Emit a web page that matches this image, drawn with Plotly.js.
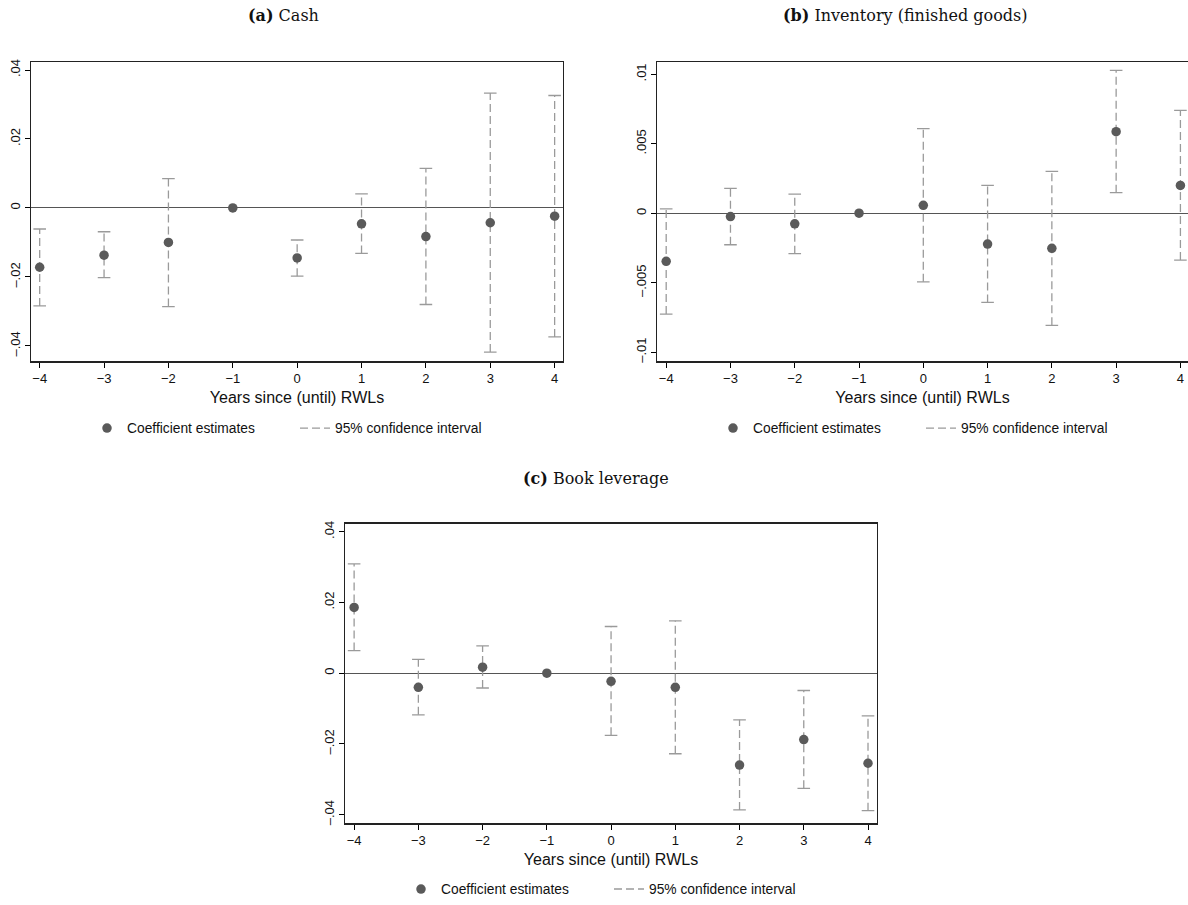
<!DOCTYPE html>
<html>
<head>
<meta charset="utf-8">
<script src="https://cdn.plot.ly/plotly-3.0.1.min.js"></script>
<style>html,body{margin:0;padding:0;background:#fff;}#chart{width:1188px;height:905px;}</style>
</head>
<body>
<div id="chart"></div>
<script>
// ---- Data ----
const years = [-4, -3, -2, -1, 0, 1, 2, 3, 4];
const xTickText = ["\u22124", "\u22123", "\u22122", "\u22121", "0", "1", "2", "3", "4"];

// (a) Cash
const cashCoef = [-0.0172, -0.0137, -0.0100, 0, -0.0145, -0.0046, -0.0083, -0.0043, -0.0024];
const cashLo   = [-0.0284, -0.0202, -0.0286, null, -0.0198, -0.0132, -0.0280, -0.0418, -0.0374];
const cashHi   = [-0.0061, -0.0069, 0.0085, null, -0.0093, 0.0041, 0.0115, 0.0333, 0.0326];
const cashTickVals = [-0.04, -0.02, 0, 0.02, 0.04];
const cashTickText = ["\u2013.04", "\u2013.02", "0", ".02", ".04"];

// (b) Inventory (finished goods)
const invCoef = [-0.00346, -0.00024, -0.00076, 0, 0.00057, -0.00222, -0.00253, 0.00587, 0.00200];
const invLo   = [-0.00726, -0.00227, -0.00291, null, -0.00494, -0.00642, -0.00807, 0.00148, -0.00337];
const invHi   = [0.00031, 0.00179, 0.00138, null, 0.00609, 0.00200, 0.00301, 0.01029, 0.00740];
const invTickVals = [-0.01, -0.005, 0, 0.005, 0.01];
const invTickText = ["\u2013.01", "\u2013.005", "0", ".005", ".01"];

// (c) Book leverage
const levCoef = [0.0186, -0.0040, 0.0017, 0, -0.0023, -0.0040, -0.0260, -0.0188, -0.0255];
const levLo   = [0.0064, -0.0118, -0.0042, null, -0.0176, -0.0228, -0.0387, -0.0326, -0.0389];
const levHi   = [0.0309, 0.0039, 0.0077, null, 0.0132, 0.0148, -0.0132, -0.0049, -0.0121];
const levTickVals = [-0.04, -0.02, 0, 0.02, 0.04];
const levTickText = ["\u2013.04", "\u2013.02", "0", ".02", ".04"];

const titles = ["<b>(a)</b> Cash", "<b>(b)</b> Inventory (finished goods)", "<b>(c)</b> Book leverage"];
const xTitle = "Years since (until) RWLs";
const coefName = "Coefficient estimates";
const ciName = "95% confidence interval";

// ---- Build traces ----
const MARK = "#5a5a5a", CI = "#9a9a9a";
function panelTraces(coef, lo, hi, xa, ya, lg) {
  const lx = [], ly = [], cx = [], cy = [];
  years.forEach((x, i) => {
    if (lo[i] === null) return;
    lx.push(x, x, null); ly.push(lo[i], hi[i], null);
    cx.push(x, x); cy.push(lo[i], hi[i]);
  });
  return [
    {x: lx, y: ly, type: "scatter", mode: "lines", name: ciName, xaxis: xa, yaxis: ya, legend: lg,
     legendrank: 2, line: {color: CI, width: 1.3, dash: "8px,4px"}, hoverinfo: "skip"},
    {x: cx, y: cy, type: "scatter", mode: "markers", showlegend: false, xaxis: xa, yaxis: ya,
     marker: {symbol: "line-ew-open", size: 9, color: CI, line: {color: CI, width: 1.3}}, hoverinfo: "skip"},
    {x: years, y: coef, type: "scatter", mode: "markers", name: coefName, xaxis: xa, yaxis: ya, legend: lg,
     legendrank: 1, marker: {color: MARK, size: 9.5}}
  ];
}
const data = [].concat(
  panelTraces(cashCoef, cashLo, cashHi, "x", "y", "legend"),
  panelTraces(invCoef, invLo, invHi, "x2", "y2", "legend2"),
  panelTraces(levCoef, levLo, levHi, "x3", "y3", "legend3")
);

const FONT = "Liberation Sans, Arial, sans-serif";
const SERIF = "DejaVu Serif, serif";
function xaxis(domain, range, anchor) {
  return {domain: domain, range: range, anchor: anchor, tickvals: years, ticktext: xTickText,
    ticks: "outside", ticklen: 5, tickcolor: "#000", showgrid: false, zeroline: false,
    showline: true, mirror: true, linecolor: "#222", linewidth: 1.2,
    tickfont: {family: FONT, size: 13, color: "#111"},
    title: {text: xTitle, font: {family: FONT, size: 16, color: "#111"}, standoff: 6}};
}
function yaxis(domain, range, anchor, tv, tt, mirror) {
  return {domain: domain, range: range, anchor: anchor, tickvals: tv, ticktext: tt, tickangle: -90,
    ticks: "outside", ticklen: 5, tickcolor: "#000", showgrid: false,
    zeroline: true, zerolinecolor: "#555", zerolinewidth: 1,
    showline: true, mirror: mirror, linecolor: "#222", linewidth: 1.2,
    tickfont: {family: FONT, size: 13, color: "#111"}};
}
function legend(x, y) {
  return {x: x, y: y, xanchor: "left", yanchor: "middle", orientation: "h",
    font: {family: FONT, size: 13.8, color: "#111"}, itemwidth: 30, entrywidth: 163,
    bgcolor: "rgba(0,0,0,0)", traceorder: "normal"};
}
const W = 1188, H = 905;
const px = v => v / W, py = v => 1 - v / H;
function title(t, x, y) {
  return {text: t, x: px(x), y: py(y), xref: "paper", yref: "paper", showarrow: false,
    xanchor: "center", yanchor: "middle", font: {family: SERIF, size: 16, color: "#111"}};
}

const layout = {
  width: W, height: H, margin: {l: 0, r: 0, t: 0, b: 0},
  paper_bgcolor: "#fff", plot_bgcolor: "#fff", showlegend: true,
  font: {family: FONT, color: "#111"},
  xaxis: xaxis([px(31), px(563)], [-4.135, 4.13], "y"),
  yaxis: yaxis([py(363), py(62)], [-0.0445, 0.0424], "x", cashTickVals, cashTickText, true),
  xaxis2: xaxis([px(657), 1], [-4.143, 4.118], "y2"),
  yaxis2: yaxis([py(363), py(62)], [-0.01067, 0.01091], "x2", invTickVals, invTickText, false),
  xaxis3: xaxis([px(345), px(877)], [-4.142, 4.14], "y3"),
  yaxis3: yaxis([py(827), py(526)], [-0.0425, 0.0423], "x3", levTickVals, levTickText, true),
  legend: legend(px(87), py(430)),
  legend2: legend(px(713), py(430)),
  legend3: legend(px(401), py(893)),
  annotations: [title(titles[0], 283.5, 16), title(titles[1], 905, 16), title(titles[2], 596, 481)]
};

Plotly.newPlot("chart", data, layout, {displayModeBar: false, staticPlot: true});
</script>
</body>
</html>
